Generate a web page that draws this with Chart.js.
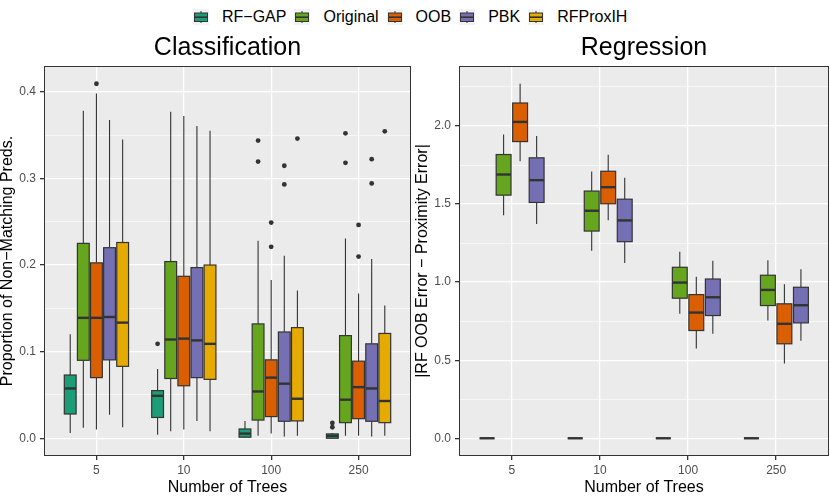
<!DOCTYPE html>
<html>
<head>
<meta charset="utf-8">
<script src="https://cdn.jsdelivr.net/npm/chart.js@4.4.1/dist/chart.umd.min.js"></script>
<style>
  html, body { margin: 0; padding: 0; background: #fff; }
  body { width: 830px; height: 498px; position: relative; overflow: hidden; font-family: "Liberation Sans", Arial, sans-serif; }
  #legend { position: absolute; left: 193px; top: 9px; display: flex; align-items: center; height: 16px; }
  #legend .item { display: flex; align-items: center; margin-right: 8px; }
  #legend .key { width: 16px; height: 16px; background: #F2F2F2; margin-right: 13px; }
  #legend span { font-size: 16px; color: #000; white-space: nowrap; }
  .panel { position: absolute; top: 28px; height: 470px; }
  #wrapCls { left: 0; width: 415px; }
  #wrapReg { left: 415px; width: 415px; }
</style>
</head>
<body>
<div id="legend"></div>
<div class="panel" id="wrapCls"><canvas id="clsChart"></canvas></div>
<div class="panel" id="wrapReg"><canvas id="regChart"></canvas></div>
<script>
// x categories
const treeCounts = ['5', '10', '100', '250'];

const seriesNames = ['RF\u2212GAP', 'Original', 'OOB', 'PBK', 'RFProxIH'];
const seriesColors = ['#1B9E77', '#66A61E', '#D95F02', '#7570B3', '#E6AB02'];

// box stats per tree count: [lower whisker, q1, median, q3, upper whisker]
// --- Classification ---
const clsRfGap = [[0.006, 0.028, 0.0575, 0.073, 0.120], [0.004, 0.024, 0.049, 0.055, 0.080], [0.0004, 0.0012, 0.0054, 0.0107, 0.020], [0.0, 0.0, 0.0027, 0.005, 0.006]];
const clsOriginal = [[0.012, 0.090, 0.139, 0.225, 0.378], [0.008, 0.069, 0.114, 0.204, 0.377], [0.003, 0.021, 0.054, 0.132, 0.228], [0.003, 0.018, 0.0445, 0.1185, 0.2305]];
const clsOob = [[0.010, 0.070, 0.139, 0.2025, 0.398], [0.010, 0.0606, 0.115, 0.187, 0.372], [0.0054, 0.025, 0.070, 0.0905, 0.1826], [0.003, 0.0226, 0.059, 0.089, 0.167]];
const clsPbk = [[0.027, 0.0905, 0.140, 0.220, 0.3675], [0.020, 0.070, 0.113, 0.197, 0.3606], [0.002, 0.0196, 0.063, 0.1227, 0.2106], [0.002, 0.0196, 0.0575, 0.109, 0.207]];
const clsProxIH = [[0.0127, 0.083, 0.1335, 0.226, 0.345], [0.008, 0.068, 0.109, 0.200, 0.355], [0.003, 0.020, 0.0456, 0.1277, 0.1707], [0.003, 0.018, 0.043, 0.121, 0.1534]];
// outliers: [tree count index, value]
const clsOutRfGap = [[1, 0.109], [3, 0.0127], [3, 0.0176]];
const clsOutOriginal = [[2, 0.3437], [2, 0.3195], [3, 0.3521], [3, 0.318]];
const clsOutOob = [[0, 0.4093], [2, 0.249], [2, 0.221], [3, 0.2463], [3, 0.2098]];
const clsOutPbk = [[2, 0.3146], [2, 0.2931], [3, 0.3222], [3, 0.2942]];
const clsOutProxIH = [[2, 0.346], [3, 0.3544]];

// --- Regression ---
const regRfGap = [[0, 0, 0, 0, 0], [0, 0, 0, 0, 0], [0, 0, 0, 0, 0], [0, 0, 0, 0, 0]];
const regOriginal = [[1.429, 1.557, 1.689, 1.817, 1.945], [1.201, 1.327, 1.457, 1.583, 1.708], [0.797, 0.897, 0.997, 1.095, 1.195], [0.754, 0.850, 0.950, 1.044, 1.140]];
const regOob = [[1.774, 1.900, 2.026, 2.147, 2.2705], [1.397, 1.502, 1.608, 1.710, 1.815], [0.575, 0.690, 0.805, 0.920, 1.035], [0.479, 0.605, 0.733, 0.861, 0.986]];
const regPbk = [[1.372, 1.510, 1.653, 1.796, 1.936], [1.123, 1.259, 1.395, 1.531, 1.668], [0.669, 0.786, 0.903, 1.020, 1.137], [0.624, 0.739, 0.852, 0.967, 1.082]];

// legend
const legendEl = document.getElementById('legend');
seriesNames.forEach((name, i) => {
  const item = document.createElement('div');
  item.className = 'item';
  item.innerHTML = '<div class="key"><svg width="16" height="16">' +
    '<line x1="8" y1="2" x2="8" y2="14" stroke="#333" stroke-width="1"/>' +
    '<rect x="1.5" y="4" width="13" height="8.5" fill="' + seriesColors[i] + '" stroke="#333" stroke-width="1"/>' +
    '<line x1="1.5" y1="8.2" x2="14.5" y2="8.2" stroke="#333" stroke-width="1.6"/></svg></div>' +
    '<span>' + name + '</span>';
  legendEl.appendChild(item);
});

const dodge = 0.75;

function buildDatasets(boxSets, outSets, n) {
  return boxSets.map((boxes, i) => {
    const off = -dodge / 2 + dodge / n * (i + 0.5);
    return {
      label: seriesNames[i],
      boxes: boxes,
      offset: off,
      boxWidth: 0.9 * dodge / n,
      fill: seriesColors[i],
      data: (outSets[i] || []).map(o => ({ x: o[0] + 1 + off, y: o[1] })),
      pointRadius: 2.4,
      pointBackgroundColor: '#333333',
      pointBorderWidth: 0,
      showLine: false
    };
  });
}

const panelBg = {
  id: 'panelBg',
  beforeDraw(chart) {
    const a = chart.chartArea, c = chart.ctx;
    c.save();
    c.fillStyle = '#EBEBEB';
    c.fillRect(a.left, a.top, a.right - a.left, a.bottom - a.top);
    c.restore();
  },
  afterDraw(chart) {
    const a = chart.chartArea, c = chart.ctx;
    c.save();
    c.strokeStyle = '#333333';
    c.lineWidth = 1;
    c.strokeRect(a.left + 0.5, a.top + 0.5, a.right - a.left - 1, a.bottom - a.top - 1);
    c.restore();
  }
};

const boxPlots = {
  id: 'boxPlots',
  beforeDatasetsDraw(chart) {
    const xs = chart.scales.x, ys = chart.scales.y, c = chart.ctx;
    c.save();
    chart.data.datasets.forEach(ds => {
      ds.boxes.forEach((b, g) => {
        const cx = g + 1 + ds.offset;
        const left = xs.getPixelForValue(cx - ds.boxWidth / 2);
        const right = xs.getPixelForValue(cx + ds.boxWidth / 2);
        const mid = xs.getPixelForValue(cx);
        const [lo, q1, med, q3, hi] = b.map(v => ys.getPixelForValue(v));
        c.strokeStyle = '#333333';
        c.lineWidth = 1.1;
        c.beginPath();
        c.moveTo(mid, hi); c.lineTo(mid, q3);
        c.moveTo(mid, q1); c.lineTo(mid, lo);
        c.stroke();
        c.fillStyle = ds.fill;
        c.fillRect(left, q3, right - left, q1 - q3);
        c.lineWidth = 1.2;
        c.strokeRect(left, q3, right - left, q1 - q3);
        c.lineWidth = 2.4;
        c.beginPath();
        c.moveTo(left, med); c.lineTo(right, med);
        c.stroke();
      });
    });
    c.restore();
  }
};

const isMajor = (v, step) => Math.abs(v / step - Math.round(v / step)) < 1e-6;

function makeOptions(title, yTitle, yMin, yMax, yStep, yMajor) {
  return {
    responsive: true,
    maintainAspectRatio: false,
    animation: false,
    layout: { padding: { right: 1, left: 0, top: 0, bottom: 0 } },
    plugins: {
      legend: { display: false },
      tooltip: { enabled: false },
      title: {
        display: true,
        text: title,
        fullSize: false,
        color: '#000',
        font: { family: 'Liberation Sans, Arial, sans-serif', size: 25, weight: 'normal', lineHeight: 1.2 },
        padding: { top: 5, bottom: 3 }
      }
    },
    scales: {
      x: {
        type: 'linear',
        min: 0.4,
        max: 4.6,
        afterFit: s => { s.height = 42; },
        border: { display: false },
        grid: { color: '#FFFFFF', lineWidth: 1.3, tickColor: '#333333', tickLength: 4, drawTicks: true },
        ticks: {
          stepSize: 1,
          includeBounds: false,
          autoSkip: false,
          maxRotation: 0,
          padding: 3,
          color: '#4D4D4D',
          font: { family: 'Liberation Sans, Arial, sans-serif', size: 12 },
          callback: v => treeCounts[Math.round(v) - 1] || ''
        },
        title: {
          display: true,
          text: 'Number of Trees',
          color: '#000',
          font: { family: 'Liberation Sans, Arial, sans-serif', size: 16, lineHeight: 1.2 },
          padding: { top: 0, bottom: 1 }
        }
      },
      y: {
        min: yMin,
        max: yMax,
        afterFit: s => { s.width = 44; },
        border: { display: false },
        grid: {
          color: '#FFFFFF',
          lineWidth: ctx => isMajor(ctx.tick.value, yMajor) ? 1.3 : 0.6,
          tickColor: ctx => isMajor(ctx.tick.value, yMajor) ? '#333333' : 'rgba(0,0,0,0)',
          tickLength: 4
        },
        ticks: {
          stepSize: yStep,
          includeBounds: false,
          autoSkip: false,
          padding: 4,
          color: '#4D4D4D',
          font: { family: 'Liberation Sans, Arial, sans-serif', size: 12 },
          callback: v => isMajor(v, yMajor) ? v.toFixed(1) : ''
        },
        title: {
          display: true,
          text: yTitle,
          color: '#000',
          font: { family: 'Liberation Sans, Arial, sans-serif', size: 16, lineHeight: 1 },
          padding: { top: 0, bottom: 0 }
        }
      }
    }
  };
}

new Chart(document.getElementById('clsChart'), {
  type: 'scatter',
  data: {
    datasets: buildDatasets(
      [clsRfGap, clsOriginal, clsOob, clsPbk, clsProxIH],
      [clsOutRfGap, clsOutOriginal, clsOutOob, clsOutPbk, clsOutProxIH], 5)
  },
  options: makeOptions('Classification', 'Proportion of Non\u2212Matching Preds.', -0.0205, 0.4298, 0.05, 0.1),
  plugins: [panelBg, boxPlots]
});

new Chart(document.getElementById('regChart'), {
  type: 'scatter',
  data: {
    datasets: buildDatasets([regRfGap, regOriginal, regOob, regPbk], [], 4)
  },
  options: makeOptions('Regression', '|RF OOB Error \u2212 Proximity Error|', -0.1135, 2.384, 0.25, 0.5),
  plugins: [panelBg, boxPlots]
});
</script>
</body>
</html>
